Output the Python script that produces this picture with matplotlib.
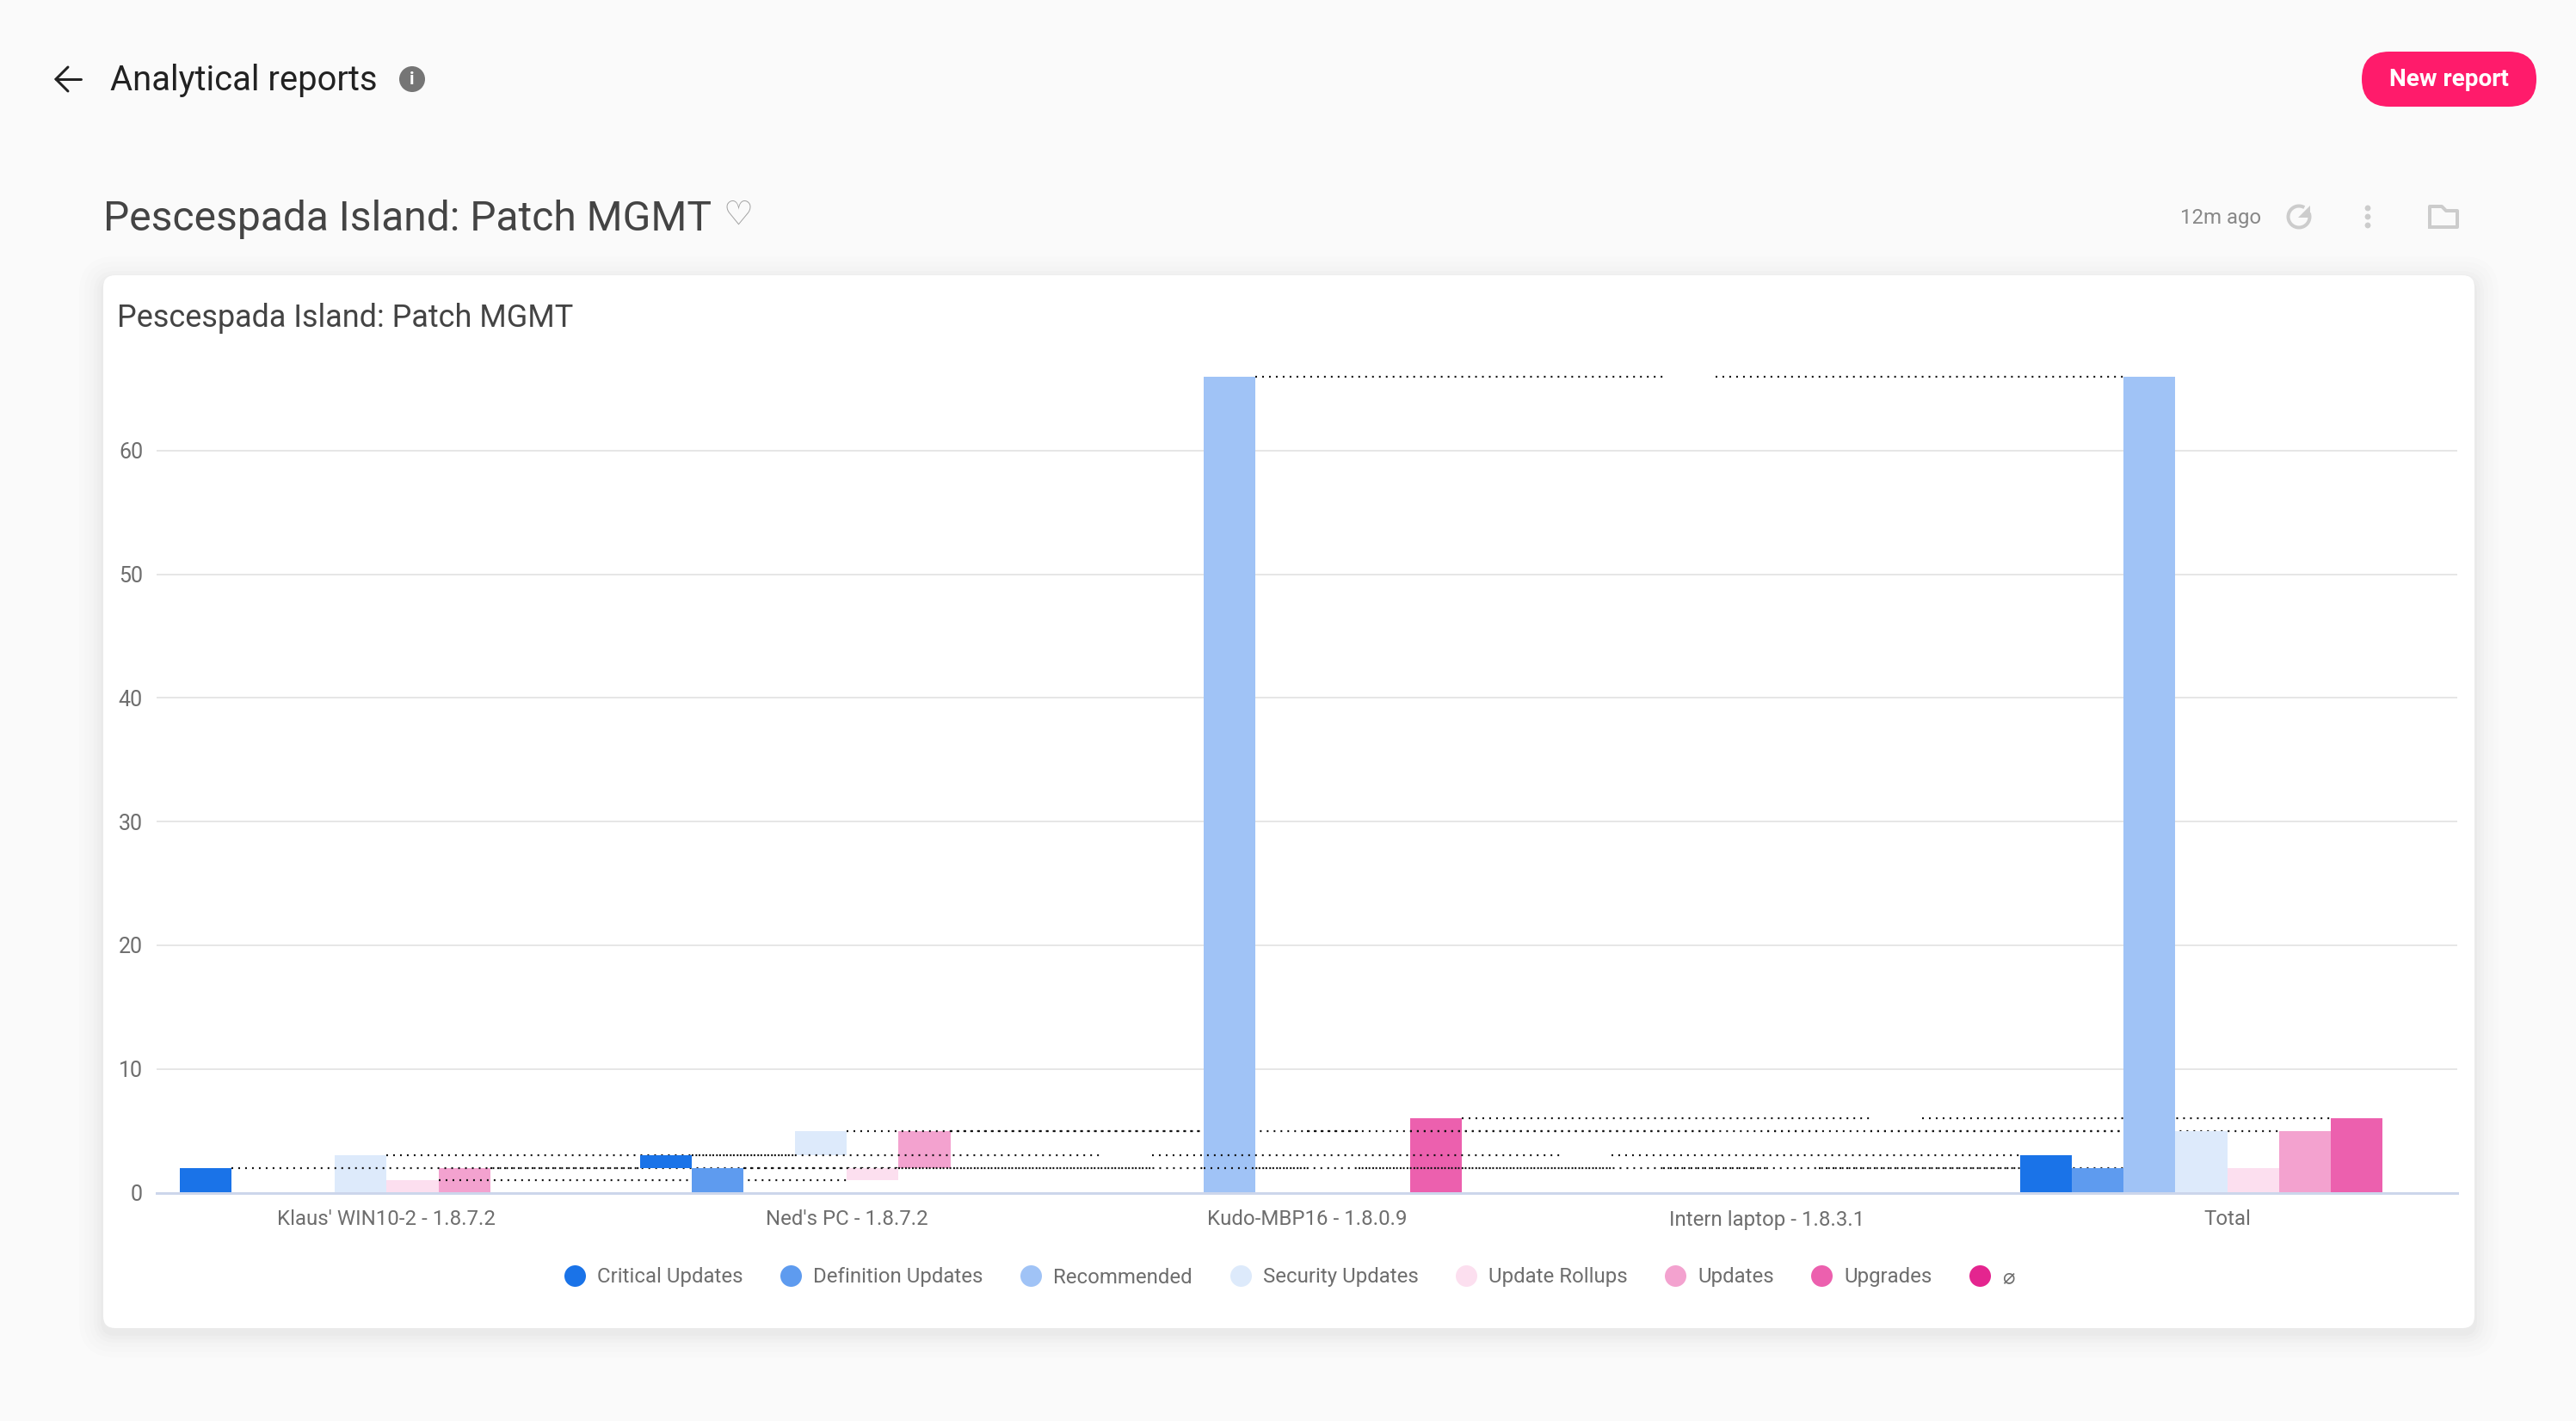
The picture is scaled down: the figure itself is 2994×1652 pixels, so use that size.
#!/usr/bin/env python3
"""
plot.py
Analytical report screen: patch waterfall per device, plus page chrome.
"""

import matplotlib
matplotlib.use("Agg")
import matplotlib.pyplot as plt
from matplotlib.lines import Line2D
from matplotlib.patches import Arc, Circle, FancyBboxPatch, Polygon

plt.rcParams["font.family"] = ["Roboto", "DejaVu Sans"]

# -------------------------------------------------------------------
# DATA
# -------------------------------------------------------------------

categories = ["Klaus' WIN10-2 - 1.8.7.2", "Ned's PC - 1.8.7.2", "Kudo-MBP16 - 1.8.0.9",
              "Intern laptop - 1.8.3.1", "Total"]
series_names = ["Critical Updates", "Definition Updates", "Recommended", "Security Updates",
                "Update Rollups", "Updates", "Upgrades", "\u2300"]
series_colors = ["#1A73E8", "#5E9BEF", "#A0C3F6", "#DDEAFB",
                 "#FCDFEF", "#F3A2CF", "#EC60AE", "#E4258F"]

# one increment per device, last entry is the total bar
critical = [2, 1, 0, 0, 3]
definition = [0, 2, 0, 0, 2]
recommended = [0, 0, 66, 0, 66]
security = [3, 2, 0, 0, 5]
rollups = [1, 1, 0, 0, 2]
updates = [2, 3, 0, 0, 5]
upgrades = [0, 0, 6, 0, 6]
no_group = [0, 0, 0, 0, 0]
series_values = [critical, definition, recommended, security, rollups, updates, upgrades, no_group]

y_ticks = [0, 10, 20, 30, 40, 50, 60]

# -------------------------------------------------------------------
# PAGE SETUP
# -------------------------------------------------------------------

W, H = 2994, 1652
PX = 0.72  # px -> pt at dpi 100
BG = "#FAFAFA"
LABEL = "#6E6E6E"

fig = plt.figure(figsize=(W / 100, H / 100), dpi=100, facecolor=BG)

page = fig.add_axes([0, 0, 1, 1], zorder=0)
page.set_xlim(0, W)
page.set_ylim(H, 0)
page.axis("off")

# card shadow, then card
for grow, alpha in [(28, 0.006), (22, 0.007), (16, 0.008), (11, 0.010), (7, 0.012), (3, 0.014)]:
    page.add_patch(FancyBboxPatch((120 - grow, 320 + 6 - grow), 2756 + 2 * grow, 1224 + 2 * grow,
                                  boxstyle="round,pad=0,rounding_size=%d" % (14 + grow),
                                  fc="black", ec="none", alpha=alpha))
page.add_patch(FancyBboxPatch((120, 320), 2756, 1224, boxstyle="round,pad=0,rounding_size=14",
                              fc="white", ec="none"))

# header: back arrow, title, info
page.plot([65, 94], [92, 92], color="#222222", lw=3 * PX, solid_capstyle="round")
page.plot([79, 65, 79], [78, 92, 106], color="#222222", lw=3 * PX,
          solid_capstyle="round", solid_joinstyle="miter")
page.text(128, 105, "Analytical reports", fontsize=40 * PX, color="#222222", va="baseline")
page.add_patch(Circle((479, 92), 15, fc="#757575", ec="none"))
page.text(479, 92.5, "i", fontsize=21 * PX, color="white", ha="center", va="center",
          fontweight="bold")

# new report button
page.add_patch(FancyBboxPatch((2745, 60), 203, 64, boxstyle="round,pad=0,rounding_size=32",
                              fc="#FF1B6B", ec="none"))
page.text(2846.5, 90, "New report", fontsize=28 * PX, color="white", ha="center", va="center_baseline",
          fontweight="bold")

# report title row
page.text(120, 268, "Pescespada Island: Patch MGMT", fontsize=48 * PX, color="#444444", va="baseline")
page.text(858, 250, "\u2661", fontsize=39 * PX, color="#A0A0A0", ha="center", va="center",
          family="DejaVu Sans", fontweight="bold")
page.text(2534, 260, "12m ago", fontsize=24 * PX, color="#888888", va="baseline")

# refresh, kebab and folder icons
page.add_patch(Arc((2672, 252), 25, 25, theta1=-20, theta2=300, color="#CCCCCC", lw=4 * PX))
page.add_patch(Polygon([[2685, 239], [2685, 253], [2671, 253]], closed=True, fc="#CCCCCC", ec="none"))
for dot_y in [242, 252, 262]:
    page.add_patch(Circle((2752, dot_y), 3.4, fc="#CCCCCC", ec="none"))
page.plot([2824, 2824, 2838, 2843, 2856, 2856, 2824], [264, 240, 240, 245, 245, 264, 264],
          color="#CCCCCC", lw=4 * PX, solid_joinstyle="round")

page.text(136, 380, "Pescespada Island: Patch MGMT", fontsize=36 * PX, color="#444444", va="baseline")

# -------------------------------------------------------------------
# CHART
# -------------------------------------------------------------------

left, right, top, bottom = 182, 2856, 437.5, 1386.5
ax = fig.add_axes([left / W, 1 - bottom / H, (right - left) / W, (bottom - top) / H], zorder=1)
ax.patch.set_visible(False)

bar_w = 0.9 / len(series_names)
n_series = len(series_names)

# first series ends up on top, the connectors sit above their own bars
for i, (values, color) in enumerate(zip(series_values, series_colors)):
    offset = (i - (n_series - 1) / 2) * bar_w
    z = 3 + 2 * (n_series - i)
    level = 0
    for c, value in enumerate(values):
        base = 0 if c == len(values) - 1 else level
        ax.bar(c + offset, value, width=bar_w, bottom=base, color=color, linewidth=0, zorder=z)
        if c == len(values) - 1:
            break
        level += value
        if level == 0:
            continue
        ax.plot([c + offset + bar_w / 2, c + 1 + offset - bar_w / 2], [level, level],
                color="#111111", lw=2.2 * PX, linestyle=(0, (0.9, 2.73)), dash_capstyle="butt",
                zorder=z + 1, clip_on=False)

ax.set_xlim(-0.5, len(categories) - 0.5)
ax.set_ylim(0, 66)
ax.set_xticks(range(len(categories)))
ax.set_xticklabels(categories)
ax.set_yticks(y_ticks)
ax.tick_params(axis="x", length=0, pad=20 * PX, labelsize=24 * PX, labelcolor=LABEL)
ax.tick_params(axis="y", length=0, pad=16 * PX, labelsize=25 * PX, labelcolor=LABEL)

ax.grid(axis="y", color="#E6E6E6", lw=2 * PX)
ax.set_axisbelow(True)
for side in ["top", "right", "left"]:
    ax.spines[side].set_visible(False)
ax.spines["bottom"].set_color("#CCD6EB")
ax.spines["bottom"].set_linewidth(3 * PX)
ax.spines["bottom"].set_zorder(40)

handles = [Line2D([], [], linestyle="none", marker="o", markersize=25 * PX,
                  markerfacecolor=color, markeredgewidth=0) for color in series_colors]
leg = fig.legend(handles, series_names, loc="center", bbox_to_anchor=(1499 / W, 1 - 1485 / H),
                 ncol=n_series, frameon=False, fontsize=24 * PX, labelcolor=LABEL,
                 handlelength=1.0, handletextpad=0.58, columnspacing=1.82, borderpad=0)

fig.savefig("out.png", dpi=100, facecolor=BG)
